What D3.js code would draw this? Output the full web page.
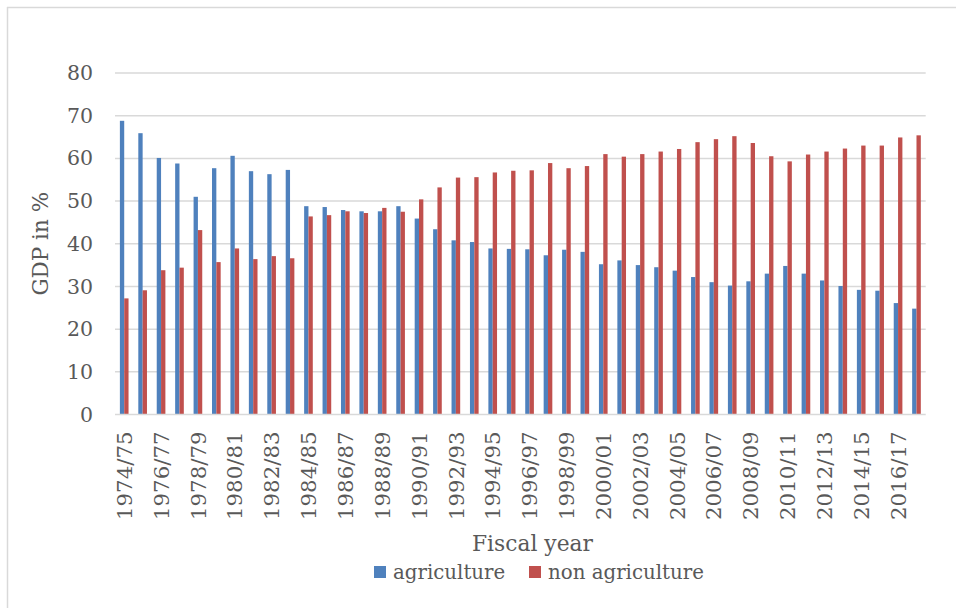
<!DOCTYPE html>
<html>
<head>
<meta charset="utf-8">
<script src="https://cdn.jsdelivr.net/npm/d3@7"></script>
<style>
  html, body { margin: 0; padding: 0; background: #fff; }
  svg { display: block; }
  text { font-family: "DejaVu Serif", "Liberation Serif", serif; fill: #595959; }
</style>
</head>
<body>
<svg id="chart" width="956" height="608"></svg>
<script>
// Fiscal years 1974/75 .. 2017/18
const years = [
  "1974/75","1975/76","1976/77","1977/78","1978/79","1979/80","1980/81","1981/82",
  "1982/83","1983/84","1984/85","1985/86","1986/87","1987/88","1988/89","1989/90",
  "1990/91","1991/92","1992/93","1993/94","1994/95","1995/96","1996/97","1997/98",
  "1998/99","1999/00","2000/01","2001/02","2002/03","2003/04","2004/05","2005/06",
  "2006/07","2007/08","2008/09","2009/10","2010/11","2011/12","2012/13","2013/14",
  "2014/15","2015/16","2016/17","2017/18"
];

// Share of GDP (%)
const agriculture = [
  68.8, 65.9, 60.1, 58.8, 51.0, 57.7, 60.6, 57.0, 56.3, 57.3,
  48.8, 48.6, 47.9, 47.6, 47.6, 48.8, 45.9, 43.4, 40.8, 40.4,
  38.9, 38.8, 38.7, 37.3, 38.6, 38.1, 35.2, 36.1, 35.0, 34.5,
  33.7, 32.2, 31.0, 30.2, 31.2, 33.0, 34.8, 33.0, 31.4, 30.1,
  29.2, 29.0, 26.1, 24.8
];
const nonAgriculture = [
  27.2, 29.1, 33.8, 34.4, 43.2, 35.7, 38.9, 36.4, 37.1, 36.6,
  46.4, 46.7, 47.6, 47.2, 48.4, 47.5, 50.4, 53.2, 55.5, 55.6,
  56.7, 57.1, 57.2, 58.9, 57.7, 58.2, 61.0, 60.4, 61.0, 61.6,
  62.2, 63.8, 64.5, 65.2, 63.6, 60.5, 59.3, 60.9, 61.6, 62.3,
  63.0, 63.0, 64.9, 65.4
];

const yTicks = [0, 10, 20, 30, 40, 50, 60, 70, 80];
const seriesNames = ["agriculture", "non agriculture"];
const seriesColors = ["#4f81bd", "#c0504d"];

const svg = d3.select("#chart");

// chart frame (top and left edges)
svg.append("line").attr("x1", 7).attr("x2", 956).attr("y1", 7.5).attr("y2", 7.5)
  .attr("stroke", "#d9d9d9").attr("stroke-width", 1.5);
svg.append("line").attr("x1", 7.5).attr("x2", 7.5).attr("y1", 7).attr("y2", 608)
  .attr("stroke", "#d9d9d9").attr("stroke-width", 1.5);

const plot = { left: 115, right: 925.7, top: 73, bottom: 414.5 };

const x0 = d3.scaleBand()
  .domain(years)
  .range([plot.left, plot.right])
  .paddingInner(0.53)
  .paddingOuter(0.265);

const x1 = d3.scaleBand()
  .domain(seriesNames)
  .range([0, x0.bandwidth()]);

const y = d3.scaleLinear().domain([0, 80]).range([plot.bottom, plot.top]);

// gridlines
svg.append("g")
  .selectAll("line")
  .data(yTicks.filter(t => t > 0))
  .join("line")
  .attr("x1", plot.left).attr("x2", plot.right)
  .attr("y1", d => y(d)).attr("y2", d => y(d))
  .attr("stroke", "#d9d9d9").attr("stroke-width", 1.5);

// y axis labels
const yAxis = d3.axisLeft(y).tickValues(yTicks).tickSize(0).tickPadding(22);
svg.append("g")
  .attr("transform", `translate(${plot.left},0)`)
  .call(yAxis)
  .call(g => g.select(".domain").remove())
  .call(g => g.selectAll("text")
    .attr("font-family", "DejaVu Serif, serif")
    .attr("font-size", 20.5)
    .attr("fill", "#595959"));

// bars
const data = years.map((yr, i) => ({ year: yr, values: [agriculture[i], nonAgriculture[i]] }));
svg.append("g")
  .selectAll("g")
  .data(data)
  .join("g")
  .attr("transform", d => `translate(${x0(d.year)},0)`)
  .selectAll("rect")
  .data(d => d.values.map((v, k) => ({ key: seriesNames[k], value: v, color: seriesColors[k] })))
  .join("rect")
  .attr("x", d => x1(d.key))
  .attr("width", x1.bandwidth())
  .attr("y", d => y(d.value))
  .attr("height", d => y(0) - y(d.value))
  .attr("fill", d => d.color);

// x axis baseline
svg.append("line")
  .attr("x1", plot.left).attr("x2", plot.right)
  .attr("y1", y(0)).attr("y2", y(0))
  .attr("stroke", "#d9d9d9").attr("stroke-width", 1.5);

// x axis labels, every second year, rotated
const xAxis = d3.axisBottom(x0)
  .tickValues(years.filter((d, i) => i % 2 === 0))
  .tickSize(0);
svg.append("g")
  .attr("transform", `translate(0,${plot.bottom})`)
  .call(xAxis)
  .call(g => g.select(".domain").remove())
  .call(g => g.selectAll("text")
    .attr("font-family", "DejaVu Serif, serif")
    .attr("font-size", 21.3)
    .attr("fill", "#595959")
    .attr("text-anchor", "end")
    .attr("transform", "rotate(-90)")
    .attr("x", -17)
    .attr("y", 0)
    .attr("dy", "0.36em"));

// axis titles
svg.append("text")
  .attr("transform", `translate(40,${(plot.top + plot.bottom) / 2}) rotate(-90)`)
  .attr("text-anchor", "middle")
  .attr("dy", "0.35em")
  .attr("font-size", 21.5)
  .text("GDP in %");

svg.append("text")
  .attr("x", 532.5).attr("y", 551)
  .attr("text-anchor", "middle")
  .attr("font-size", 21.8)
  .text("Fiscal year");

// legend
const legendItems = [
  { name: seriesNames[0], color: seriesColors[0], x: 374 },
  { name: seriesNames[1], color: seriesColors[1], x: 529 }
];
const legend = svg.append("g");
legend.selectAll("rect")
  .data(legendItems)
  .join("rect")
  .attr("x", d => d.x).attr("y", 566)
  .attr("width", 12).attr("height", 12)
  .attr("fill", d => d.color);
legend.selectAll("text")
  .data(legendItems)
  .join("text")
  .attr("x", d => d.x + 19).attr("y", 579)
  .attr("font-size", 19.8)
  .text(d => d.name);
</script>
</body>
</html>
